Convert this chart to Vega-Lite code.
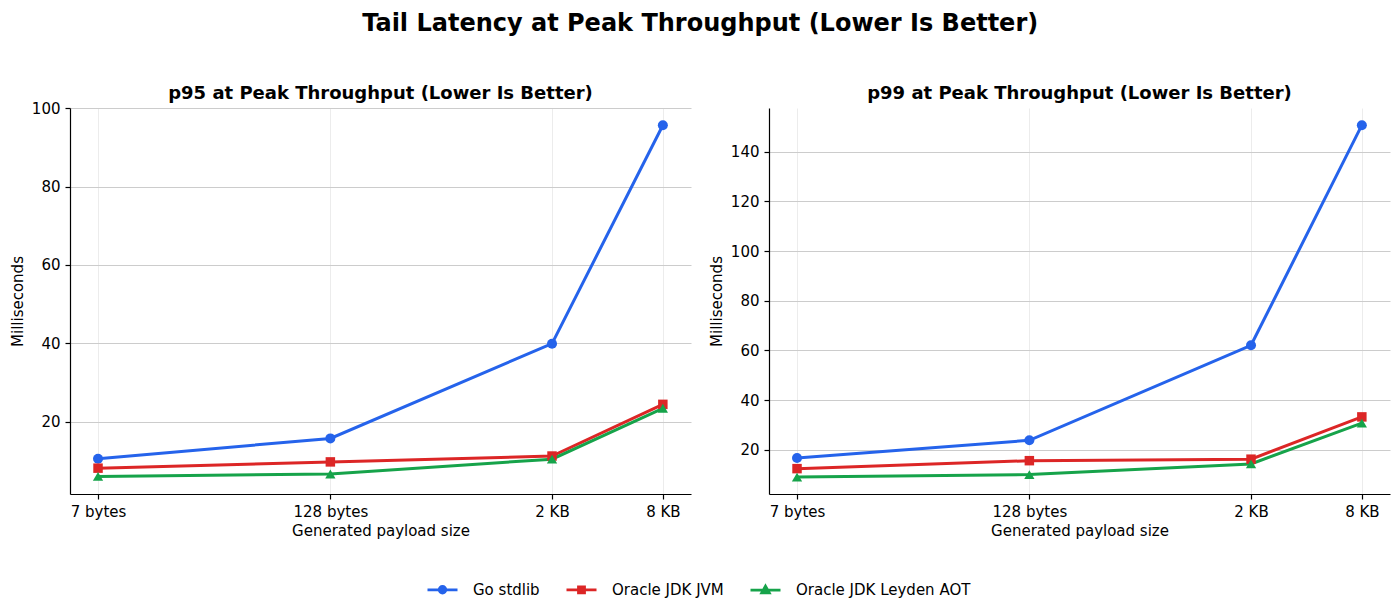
{
  "$schema": "https://vega.github.io/schema/vega-lite/v6.json",
  "background": "#ffffff",
  "padding": {"left": 10, "top": 12, "right": 11, "bottom": 5},
  "title": {
    "text": "Tail Latency at Peak Throughput (Lower Is Better)",
    "fontSize": 24,
    "fontWeight": "bold",
    "font": "DejaVu Sans",
    "color": "#000",
    "anchor": "middle",
    "offset": 49
  },
  "datasets": {
    "latency": [
      {"metric": "p95", "series": "Go stdlib", "bytes": 7, "ms": 10.5},
      {"metric": "p95", "series": "Go stdlib", "bytes": 128, "ms": 15.7},
      {"metric": "p95", "series": "Go stdlib", "bytes": 2048, "ms": 39.9},
      {"metric": "p95", "series": "Go stdlib", "bytes": 8192, "ms": 95.7},
      {"metric": "p95", "series": "Oracle JDK JVM", "bytes": 7, "ms": 8.1},
      {"metric": "p95", "series": "Oracle JDK JVM", "bytes": 128, "ms": 9.7},
      {"metric": "p95", "series": "Oracle JDK JVM", "bytes": 2048, "ms": 11.2},
      {"metric": "p95", "series": "Oracle JDK JVM", "bytes": 8192, "ms": 24.4},
      {"metric": "p95", "series": "Oracle JDK Leyden AOT", "bytes": 7, "ms": 6.0},
      {"metric": "p95", "series": "Oracle JDK Leyden AOT", "bytes": 128, "ms": 6.6},
      {"metric": "p95", "series": "Oracle JDK Leyden AOT", "bytes": 2048, "ms": 10.4},
      {"metric": "p95", "series": "Oracle JDK Leyden AOT", "bytes": 8192, "ms": 23.4},
      {"metric": "p99", "series": "Go stdlib", "bytes": 7, "ms": 16.8},
      {"metric": "p99", "series": "Go stdlib", "bytes": 128, "ms": 23.9},
      {"metric": "p99", "series": "Go stdlib", "bytes": 2048, "ms": 62.1},
      {"metric": "p99", "series": "Go stdlib", "bytes": 8192, "ms": 150.6},
      {"metric": "p99", "series": "Oracle JDK JVM", "bytes": 7, "ms": 12.5},
      {"metric": "p99", "series": "Oracle JDK JVM", "bytes": 128, "ms": 15.7},
      {"metric": "p99", "series": "Oracle JDK JVM", "bytes": 2048, "ms": 16.3},
      {"metric": "p99", "series": "Oracle JDK JVM", "bytes": 8192, "ms": 33.3},
      {"metric": "p99", "series": "Oracle JDK Leyden AOT", "bytes": 7, "ms": 9.1},
      {"metric": "p99", "series": "Oracle JDK Leyden AOT", "bytes": 128, "ms": 10.1},
      {"metric": "p99", "series": "Oracle JDK Leyden AOT", "bytes": 2048, "ms": 14.4},
      {"metric": "p99", "series": "Oracle JDK Leyden AOT", "bytes": 8192, "ms": 30.8}
    ]
  },
  "data": {"name": "latency"},
  "spacing": 18,
  "hconcat": [
    {
      "width": 621,
      "height": 386,
      "title": {"text": "p95 at Peak Throughput (Lower Is Better)", "fontSize": 18, "fontWeight": "bold", "color": "#000", "anchor": "middle", "offset": -2},
      "transform": [{"filter": "datum.metric === 'p95'"}],
      "encoding": {
        "x": {
          "field": "bytes",
          "type": "quantitative",
          "title": "Generated payload size",
          "scale": {"type": "log", "domain": [4.93, 11650], "nice": false},
          "axis": {
            "values": [7, 128, 2048, 8192],
            "labelExpr": "datum.value < 50 ? '7 bytes' : datum.value < 500 ? '128 bytes' : datum.value < 4000 ? '2 KB' : '8 KB'"
          }
        },
        "y": {
          "field": "ms",
          "type": "quantitative",
          "title": "Milliseconds",
          "scale": {"domain": [1.5, 100.1], "nice": false, "zero": false},
          "axis": {"values": [20, 40, 60, 80, 100]}
        },
        "color": {
          "field": "series",
          "type": "nominal",
          "scale": {"domain": ["Go stdlib", "Oracle JDK JVM", "Oracle JDK Leyden AOT"], "range": ["#2563eb", "#dc2626", "#16a34a"]},
          "legend": {
            "title": null,
            "encode": {
              "symbols": {
                "update": {
                  "shape": {"signal": "datum.value === 'Go stdlib' ? 'M-1,0H1M0.22,0A0.22,0.22 0 1,1 -0.22,0A0.22,0.22 0 1,1 0.22,0Z' : datum.value === 'Oracle JDK JVM' ? 'M-1,0H1M-0.2,-0.2H0.2V0.2H-0.2Z' : 'M-1,0H1M0,-0.26L0.25,0.18H-0.25Z'"},
                  "stroke": {"signal": "scale('color', datum.value)"},
                  "fill": {"signal": "scale('color', datum.value)"},
                  "strokeWidth": {"value": 2.8},
                  "opacity": {"value": 1}
                }
              }
            }
          }
        }
      },
      "layer": [
        {"mark": {"type": "line", "strokeWidth": 3}},
        {"transform": [{"filter": "datum.series === 'Go stdlib'"}], "mark": {"type": "point", "shape": "circle", "filled": true, "opacity": 1, "size": 100}},
        {"transform": [{"filter": "datum.series === 'Oracle JDK JVM'"}], "mark": {"type": "point", "shape": "square", "filled": true, "opacity": 1, "size": 90}},
        {"transform": [{"filter": "datum.series === 'Oracle JDK Leyden AOT'"}], "mark": {"type": "point", "shape": "triangle-up", "filled": true, "opacity": 1, "size": 105}}
      ]
    },
    {
      "width": 621,
      "height": 386,
      "title": {"text": "p99 at Peak Throughput (Lower Is Better)", "fontSize": 18, "fontWeight": "bold", "color": "#000", "anchor": "middle", "offset": 5},
      "transform": [{"filter": "datum.metric === 'p99'"}],
      "encoding": {
        "x": {
          "field": "bytes",
          "type": "quantitative",
          "title": "Generated payload size",
          "scale": {"type": "log", "domain": [4.93, 11650], "nice": false},
          "axis": {
            "values": [7, 128, 2048, 8192],
            "labelExpr": "datum.value < 50 ? '7 bytes' : datum.value < 500 ? '128 bytes' : datum.value < 4000 ? '2 KB' : '8 KB'"
          }
        },
        "y": {
          "field": "ms",
          "type": "quantitative",
          "title": "Milliseconds",
          "scale": {"domain": [2.3, 157.5], "nice": false, "zero": false},
          "axis": {"values": [20, 40, 60, 80, 100, 120, 140]}
        },
        "color": {
          "field": "series",
          "type": "nominal",
          "scale": {"domain": ["Go stdlib", "Oracle JDK JVM", "Oracle JDK Leyden AOT"], "range": ["#2563eb", "#dc2626", "#16a34a"]},
          "legend": {
            "title": null,
            "encode": {
              "symbols": {
                "update": {
                  "shape": {"signal": "datum.value === 'Go stdlib' ? 'M-1,0H1M0.22,0A0.22,0.22 0 1,1 -0.22,0A0.22,0.22 0 1,1 0.22,0Z' : datum.value === 'Oracle JDK JVM' ? 'M-1,0H1M-0.2,-0.2H0.2V0.2H-0.2Z' : 'M-1,0H1M0,-0.26L0.25,0.18H-0.25Z'"},
                  "stroke": {"signal": "scale('color', datum.value)"},
                  "fill": {"signal": "scale('color', datum.value)"},
                  "strokeWidth": {"value": 2.8},
                  "opacity": {"value": 1}
                }
              }
            }
          }
        }
      },
      "layer": [
        {"mark": {"type": "line", "strokeWidth": 3}},
        {"transform": [{"filter": "datum.series === 'Go stdlib'"}], "mark": {"type": "point", "shape": "circle", "filled": true, "opacity": 1, "size": 100}},
        {"transform": [{"filter": "datum.series === 'Oracle JDK JVM'"}], "mark": {"type": "point", "shape": "square", "filled": true, "opacity": 1, "size": 90}},
        {"transform": [{"filter": "datum.series === 'Oracle JDK Leyden AOT'"}], "mark": {"type": "point", "shape": "triangle-up", "filled": true, "opacity": 1, "size": 105}}
      ]
    }
  ],
  "resolve": {"scale": {"y": "independent"}},
  "config": {
    "font": "DejaVu Sans",
    "view": {"stroke": null},
    "axis": {
      "domainColor": "#000",
      "domainWidth": 1.2,
      "tickColor": "#000",
      "tickWidth": 1.2,
      "tickSize": 5,
      "labelFontSize": 15,
      "labelColor": "#000",
      "labelPadding": 5,
      "titleFontSize": 15,
      "titleFontWeight": "normal",
      "titleColor": "#000",
      "gridColor": "#cccccc",
      "gridWidth": 1
    },
    "axisX": {"gridColor": "#ececec", "titlePadding": 4, "labelFlush": false},
    "axisY": {"titlePadding": 6},
    "legend": {
      "orient": "none",
      "legendX": 356,
      "legendY": 465,
      "direction": "horizontal",
      "labelFontSize": 15,
      "labelColor": "#000",
      "labelLimit": 0,
      "symbolSize": 900,
      "labelOffset": 14,
      "columnPadding": 20
    }
  }
}
